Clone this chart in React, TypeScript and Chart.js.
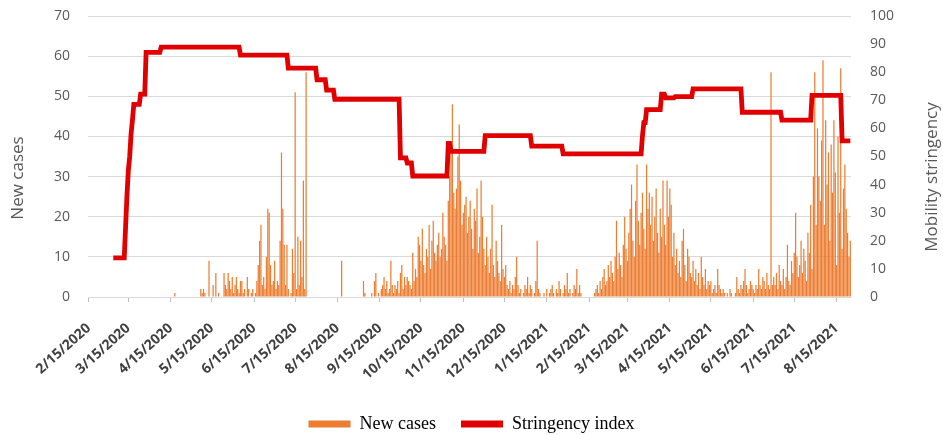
import React, { useEffect, useRef } from 'react';
import { Chart, registerables } from 'chart.js';

Chart.register(...registerables);

// ---------- DATA ----------
const FIRST_DAY = '2/15/2020';
const DAY_COUNT = 558; // 2/15/2020 .. 8/25/2021

const tickLabels = [
  '2/15/2020', '3/15/2020', '4/15/2020', '5/15/2020', '6/15/2020', '7/15/2020',
  '8/15/2020', '9/15/2020', '10/15/2020', '11/15/2020', '12/15/2020', '1/15/2021',
  '2/15/2021', '3/15/2021', '4/15/2021', '5/15/2021', '6/15/2021', '7/15/2021', '8/15/2021',
];

// Daily new cases, one array per month
const casesFeb2020 = [0,0,0,0,0,0,0,0,0,0,0,0,0,0,0];
const casesMar2020 = [0,0,0,0,0,0,0,0,0,0,0,0,0,0,0,0,0,0,0,0,0,0,0,0,0,0,0,0,0,0,0];
const casesApr2020 = [0,0,0,0,0,0,0,0,0,0,0,0,0,0,0,0,0,1,0,0,0,0,0,0,0,0,0,0,0,0];
const casesMay2020 = [0,0,0,0,0,0,2,1,2,1,0,0,9,0,0,3,0,6,0,1,0,0,0,6,3,2,6,4,2,5,1];
const casesJun2020 = [3,5,2,1,4,4,1,2,0,5,2,0,1,2,0,1,4,8,14,18,3,5,2,10,22,21,8,3,4,9];
const casesJul2020 = [2,4,3,14,36,22,13,3,13,2,0,1,12,6,51,2,15,3,14,5,29,2,56,0,0,0,0,0,0,0,0];
const casesAug2020 = [0,0,0,0,0,0,0,0,0,0,0,0,0,0,0,0,0,9,0,0,0,0,0,0,0,0,0,0,0,0,0];
const casesSep2020 = [0,0,4,1,0,0,0,0,1,0,4,6,0,1,0,2,3,5,2,4,1,2,9,3,1,3,2,4,1,6];
const casesOct2020 = [8,2,5,3,5,4,3,2,11,4,7,5,15,13,9,17,8,6,12,10,18,7,14,19,11,9,13,16,10,12,21];
const casesNov2020 = [15,13,9,24,30,38,48,26,22,27,35,43,29,18,21,23,25,16,20,24,17,12,22,19,27,11,15,29,20,12];
const casesDec2020 = [8,15,10,6,12,23,8,5,14,9,6,4,18,7,5,8,3,2,4,1,3,2,5,10,3,1,2,0,1,3,2];
const casesJan2021 = [5,1,3,2,0,1,4,14,2,1,0,0,1,0,2,0,1,2,3,1,0,2,1,4,2,0,1,3,2,6,1];
const casesFeb2021 = [2,0,1,3,2,7,1,3,1,0,0,0,0,0,0,0,0,0,1,2,3,1,4,2,5,7,3,4];
const casesMar2021 = [8,5,9,6,4,10,19,7,11,8,5,13,20,12,9,16,22,28,14,10,24,33,19,13,21,26,17,12,33,22,26];
const casesApr2021 = [18,25,14,20,27,16,11,22,15,29,18,13,29,20,27,23,10,16,8,12,6,9,5,14,17,8,4,12,10,6];
const casesMay2021 = [5,9,4,7,3,6,2,10,5,3,7,2,4,3,4,1,2,3,1,7,3,2,1,2,1,0,1,0,2,1,0];
const casesJun2021 = [0,1,5,2,1,3,2,4,7,3,1,2,4,3,2,1,3,2,7,3,2,5,4,2,6,3,2,56,3,5];
const casesJul2021 = [3,6,2,8,4,3,7,2,5,13,4,3,9,6,11,21,10,5,8,14,6,12,9,4,16,11,23,7,30,56,18];
const casesAug2021 = [42,30,24,39,59,18,44,28,36,14,38,26,44,31,8,40,21,57,12,27,33,22,16,10,14];

// Stringency index: date of each change and the value it holds from then on
const stringencyChangeDates = [
  '3/4/2020', '3/13/2020', '3/14/2020', '3/15/2020', '3/16/2020', '3/17/2020', '3/18/2020',
  '3/19/2020', '3/24/2020', '3/28/2020', '4/8/2020', '6/5/2020', '7/10/2020', '7/31/2020',
  '8/7/2020', '8/13/2020', '9/30/2020', '10/5/2020', '10/9/2020', '11/4/2020', '11/6/2020',
  '12/1/2020', '1/4/2021', '1/27/2021', '3/26/2021', '3/27/2021', '3/29/2021', '4/9/2021',
  '4/12/2021', '4/19/2021', '5/2/2021', '6/7/2021', '7/6/2021', '7/28/2021', '8/19/2021',
];
const stringencyValues = [
  13.89, 25, 36.11, 45, 50, 58, 63,
  68.52, 72.22, 87.04, 88.89, 86.11, 81.48, 77.31,
  73.61, 70.37, 49.54, 47.69, 43.06, 54.63, 51.85,
  57.41, 53.7, 50.93, 57.41, 62.04, 66.67, 72.22,
  70.83, 71.3, 74.07, 65.74, 62.96, 71.76, 55.56,
];

// ---------- BUILD ----------
function buildLabels(): string[] {
  const [m, d, y] = FIRST_DAY.split('/').map(Number);
  const out: string[] = [];
  for (let i = 0; i < DAY_COUNT; i++) {
    const dt = new Date(Date.UTC(y, m - 1, d + i));
    out.push(`${dt.getUTCMonth() + 1}/${dt.getUTCDate()}/${dt.getUTCFullYear()}`);
  }
  return out;
}

const labels = buildLabels();
const newCases = [
  ...casesFeb2020, ...casesMar2020, ...casesApr2020, ...casesMay2020, ...casesJun2020,
  ...casesJul2020, ...casesAug2020, ...casesSep2020, ...casesOct2020, ...casesNov2020,
  ...casesDec2020, ...casesJan2021, ...casesFeb2021, ...casesMar2021, ...casesApr2021,
  ...casesMay2021, ...casesJun2021, ...casesJul2021, ...casesAug2021,
];

function buildStringency(): (number | null)[] {
  const changeIdx = stringencyChangeDates.map((s) => labels.indexOf(s));
  return labels.map((_, i) => {
    let v: number | null = null;
    for (let k = 0; k < changeIdx.length; k++) {
      if (changeIdx[k] <= i) v = stringencyValues[k];
    }
    return v;
  });
}
const stringency = buildStringency();
const tickSet = new Set(tickLabels);

const BAR_COLOR = '#ED7D31';
const LINE_COLOR = '#E00000';
const TEXT_GRAY = '#595959';

const axisTitlePlugin = {
  id: 'axisTitles',
  afterDraw(chart: any) {
    const { ctx } = chart;
    ctx.save();
    ctx.font = '17px "Open Sans"';
    ctx.fillStyle = TEXT_GRAY;
    ctx.textAlign = 'center';
    ctx.textBaseline = 'middle';
    ctx.translate(18, 178);
    ctx.rotate(-Math.PI / 2);
    ctx.fillText('New cases', 0, 0);
    ctx.restore();
    ctx.save();
    ctx.font = '17px "Open Sans"';
    ctx.fillStyle = TEXT_GRAY;
    ctx.textAlign = 'center';
    ctx.textBaseline = 'middle';
    ctx.translate(932, 177);
    ctx.rotate(-Math.PI / 2);
    ctx.fillText('Mobility stringency', 0, 0);
    ctx.restore();
  },
};

export default function App() {
  const ref = useRef<HTMLCanvasElement | null>(null);

  useEffect(() => {
    document.body.style.margin = '0';
    const canvas = ref.current;
    if (!canvas) return;
    const chart = new Chart(canvas, {
      type: 'bar',
      data: {
        labels,
        datasets: [
          {
            type: 'bar',
            label: 'New cases',
            data: newCases,
            backgroundColor: BAR_COLOR,
            borderWidth: 0,
            barPercentage: 0.9,
            categoryPercentage: 1,
            yAxisID: 'y',
            order: 2,
          },
          {
            type: 'line',
            label: 'Stringency index',
            data: stringency,
            borderColor: LINE_COLOR,
            backgroundColor: LINE_COLOR,
            borderWidth: 4.8,
            pointRadius: 0,
            tension: 0,
            fill: false,
            spanGaps: false,
            yAxisID: 'y1',
            order: 1,
          },
        ],
      } as any,
      options: {
        animation: false,
        responsive: false,
        devicePixelRatio: 1,
        layout: { padding: { top: 16, bottom: -8, left: 0, right: 0 } },
        plugins: {
          tooltip: { enabled: false },
          legend: {
            position: 'bottom',
            labels: {
              boxWidth: 42,
              boxHeight: 7,
              padding: 25,
              color: TEXT_GRAY,
              font: { family: '"Liberation Serif", serif', size: 18 },
              generateLabels: () => [
                { text: 'New cases', fillStyle: BAR_COLOR, strokeStyle: BAR_COLOR, lineWidth: 0, hidden: false, datasetIndex: 0 },
                { text: 'Stringency index', fillStyle: LINE_COLOR, strokeStyle: LINE_COLOR, lineWidth: 0, hidden: false, datasetIndex: 1 },
              ] as any,
            },
          },
        },
        scales: {
          x: {
            type: 'category',
            offset: true,
            grid: {
              display: true,
              drawOnChartArea: false,
              drawTicks: true,
              tickLength: 5,
              offset: false,
              color: (c: any) => (tickSet.has(labels[c.index]) ? '#BFBFBF' : 'rgba(0,0,0,0)'),
            },
            border: { display: true, color: '#D9D9D9', width: 1 },
            ticks: {
              autoSkip: false,
              maxRotation: 42,
              minRotation: 42,
              padding: 18,
              color: '#404040',
              font: { family: '"Open Sans"', size: 14, weight: 'bold' },
              callback: (_v: any, i: number) => (tickSet.has(labels[i]) ? labels[i] : ''),
            },
            afterFit: (s: any) => { s.height = 93; },
          },
          y: {
            position: 'left',
            min: 0,
            max: 70,
            ticks: { stepSize: 10, padding: 3, color: TEXT_GRAY, font: { family: '"Open Sans"', size: 14 } },
            grid: { color: '#D9D9D9', drawTicks: true, tickLength: 15, tickColor: 'rgba(0,0,0,0)', lineWidth: 1 },
            border: { display: false },
            afterFit: (s: any) => { s.width = 88; },
          },
          y1: {
            position: 'right',
            min: 0,
            max: 100,
            ticks: { stepSize: 10, padding: 3, color: TEXT_GRAY, font: { family: '"Open Sans"', size: 14 } },
            grid: { drawOnChartArea: false, drawTicks: true, tickLength: 16, tickColor: 'rgba(0,0,0,0)' },
            border: { display: false },
            afterFit: (s: any) => { s.width = 92; },
          },
        },
      } as any,
      plugins: [axisTitlePlugin],
    });
    return () => chart.destroy();
  }, []);

  return <canvas ref={ref} width={943} height={435} style={{ display: 'block' }} />;
}
